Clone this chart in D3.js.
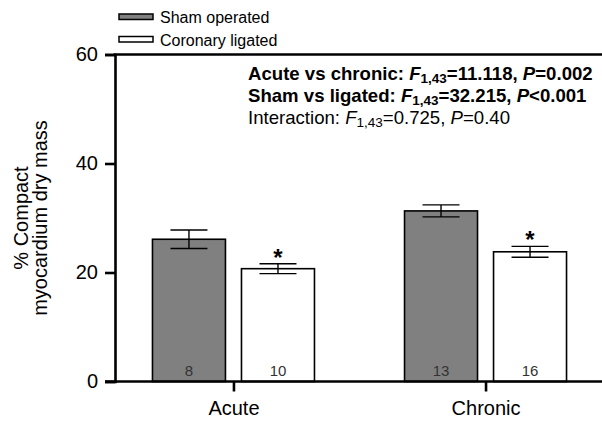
<!DOCTYPE html>
<html>
<head>
<meta charset="utf-8">
<script src="https://cdn.jsdelivr.net/npm/d3@7"></script>
<style>
  body { margin: 0; background: #fff; }
  svg { font-family: "Liberation Sans", Arial, sans-serif; }
</style>
</head>
<body>
<svg id="chart" width="602" height="421"></svg>
<script>
// data
var periods = ["Acute", "Chronic"]
var groups = ["Sham operated", "Coronary ligated"]
var shamMean = [26.1, 31.3]
var shamErr = [1.7, 1.1]
var ligMean = [20.7, 23.8]
var ligErr = [0.9, 1.0]
var shamN = [8, 13]
var ligN = [10, 16]
var yTicks = [0, 20, 40, 60]

var fills = ["#808080", "#ffffff"]

var rows = []
periods.forEach(function(p, i){
  rows.push({period: p, group: groups[0], mean: shamMean[i], err: shamErr[i], n: shamN[i], sig: false})
  rows.push({period: p, group: groups[1], mean: ligMean[i], err: ligErr[i], n: ligN[i], sig: true})
})

var svg = d3.select("#chart")

var margin = {top: 54.5, right: 0, bottom: 39.5, left: 115}
var width = 602, height = 421

// scales
var y = d3.scaleLinear()
  .domain([0, 60])
  .range([height - margin.bottom, margin.top])

var x = d3.scalePoint()
  .domain(periods)
  .range([margin.left, 604])
  .padding(0.47)

var xg = d3.scaleBand()
  .domain(groups)
  .range([-81, 81])
  .paddingInner(0.18)

// bars
var bar = svg.append("g").selectAll("g")
  .data(rows)
  .enter().append("g")

bar.append("rect")
  .attr("x", function(d){ return x(d.period) + xg(d.group) })
  .attr("y", function(d){ return y(d.mean) })
  .attr("width", xg.bandwidth())
  .attr("height", function(d){ return y(0) - y(d.mean) })
  .attr("fill", function(d){ return fills[groups.indexOf(d.group)] })
  .attr("stroke", "#000")
  .attr("stroke-width", 1.6)

// error bars
var cx = function(d){ return x(d.period) + xg(d.group) + xg.bandwidth() / 2 }
bar.append("line")
  .attr("x1", cx).attr("x2", cx)
  .attr("y1", function(d){ return y(d.mean + d.err) })
  .attr("y2", function(d){ return y(d.mean - d.err) })
  .attr("stroke", "#000").attr("stroke-width", 1.4)
bar.selectAll(".cap")
  .data(function(d){ return [d.mean + d.err, d.mean - d.err].map(function(v){ return {v: v, c: cx(d)} }) })
  .enter().append("line")
  .attr("class", "cap")
  .attr("x1", function(c){ return c.c - 18.5 })
  .attr("x2", function(c){ return c.c + 18.5 })
  .attr("y1", function(c){ return y(c.v) })
  .attr("y2", function(c){ return y(c.v) })
  .attr("stroke", "#000").attr("stroke-width", 1.4)

// n labels
bar.append("text")
  .attr("x", cx)
  .attr("y", y(0) - 5.5)
  .attr("text-anchor", "middle")
  .attr("fill", "#333")
  .style("font-size", "15px")
  .text(function(d){ return d.n })

// significance stars
bar.filter(function(d){ return d.sig }).append("text")
  .attr("x", cx)
  .attr("y", function(d){ return y(d.mean + d.err) + 2 })
  .attr("text-anchor", "middle")
  .style("font-size", "24px")
  .style("font-weight", "bold")
  .text("*")

// y axis
var yAxis = svg.append("g")
  .attr("transform", "translate(" + margin.left + ",0)")
  .call(d3.axisLeft(y).tickValues(yTicks).tickSize(10).tickPadding(7).tickFormat(d3.format("d")))
yAxis.select(".domain").attr("stroke-width", 2.6)
yAxis.selectAll(".tick line").attr("stroke-width", 2.6)
yAxis.selectAll("text").style("font-size", "20px").attr("fill", "#000")
  .style("font-family", "'Liberation Sans', Arial, sans-serif")

// top frame line
svg.append("line")
  .attr("x1", margin.left - 1.3).attr("x2", width)
  .attr("y1", y(60)).attr("y2", y(60))
  .attr("stroke", "#000").attr("stroke-width", 2.6)

// x axis
var xAxis = svg.append("g")
  .attr("transform", "translate(0," + y(0) + ")")
  .call(d3.axisBottom(x).tickSize(10).tickPadding(9))
xAxis.select(".domain").remove()
xAxis.append("line")
  .attr("x1", margin.left - 10).attr("x2", width)
  .attr("stroke", "#000").attr("stroke-width", 2.6)
xAxis.selectAll(".tick line").attr("stroke-width", 2.6)
xAxis.selectAll("text").style("font-size", "20px").attr("fill", "#000")
  .style("font-family", "'Liberation Sans', Arial, sans-serif")

// y axis label
var ylab = svg.append("text")
  .attr("transform", "translate(0,218) rotate(-90)")
  .attr("text-anchor", "middle")
  .style("font-size", "20px")
ylab.append("tspan").attr("x", 0).attr("y", 28).text("% Compact")
ylab.append("tspan").attr("x", 0).attr("y", 47).text("myocardium dry mass")

// legend
var legend = svg.append("g").selectAll("g")
  .data(groups)
  .enter().append("g")
  .attr("transform", function(d, i){ return "translate(119," + (14 + i * 22.5) + ")" })
legend.append("rect")
  .attr("width", 34).attr("height", 5.5)
  .attr("fill", function(d, i){ return fills[i] })
  .attr("stroke", "#000").attr("stroke-width", 1.5)
legend.append("text")
  .attr("x", 41).attr("y", 9)
  .style("font-size", "16px")
  .text(function(d){ return d })

// statistics text
var stats = [
  {label: "Acute vs chronic: ", f: "11.118", p: "=0.002", bold: true},
  {label: "Sham vs ligated: ", f: "32.215", p: "<0.001", bold: true},
  {label: "Interaction: ", f: "0.725", p: "=0.40", bold: false}
]
var st = svg.append("g").selectAll("text")
  .data(stats)
  .enter().append("text")
  .attr("x", 248)
  .attr("y", function(d, i){ return 80 + i * 22 })
  .style("font-size", "18.6px")
  .style("font-weight", function(d){ return d.bold ? "bold" : "normal" })
st.append("tspan").text(function(d){ return d.label })
st.append("tspan").style("font-style", "italic").text("F")
st.append("tspan").attr("dy", 3).style("font-size", "13.5px").text("1,43")
st.append("tspan").attr("dy", -3).text(function(d){ return "=" + d.f + ", " })
st.append("tspan").style("font-style", "italic").text("P")
st.append("tspan").text(function(d){ return d.p })
</script>
</body>
</html>
